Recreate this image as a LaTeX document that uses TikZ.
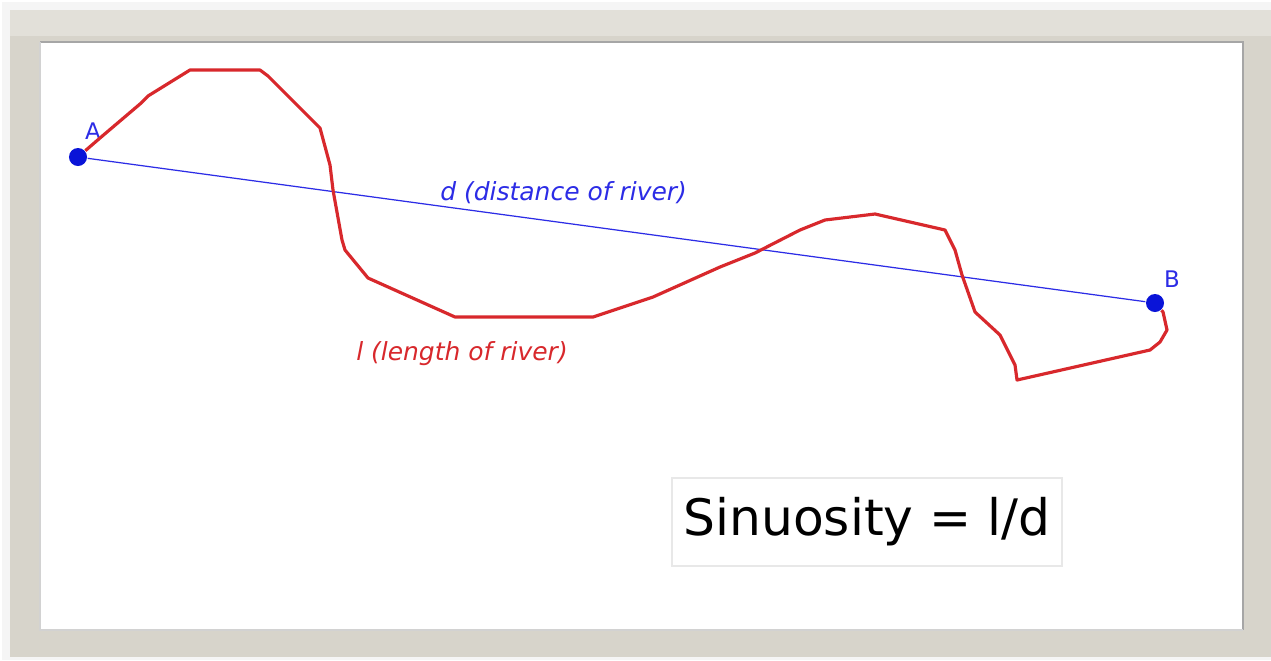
\documentclass[tikz,border=0pt]{standalone}
\usepackage{fontspec}
\setmainfont{DejaVu Sans}
\definecolor{framegray}{HTML}{D7D4CB}
\definecolor{frametop}{HTML}{E2E0D9}
\definecolor{riverred}{HTML}{D8282C}
\definecolor{lineblue}{HTML}{2C2CE6}
\definecolor{dotblue}{HTML}{0A14D8}
\tikzset{
  pt/.style={circle, fill=dotblue, inner sep=0pt, minimum size=0.18cm},
  ptlabel/.style={text=lineblue, font=\fontsize{6.5}{7}\selectfont},
  riverlabel/.style={font=\fontsize{7.1}{8}\selectfont\itshape}
}
\begin{document}
\begin{tikzpicture}[x=0.01cm, y=-0.01cm]
    \useasboundingbox (0,0) rectangle (1271,660);
    % frame
    \fill[gray!8] (2,2) rectangle (1271,660);
    \fill[framegray] (10,10) rectangle (1271,657);
    \fill[frametop] (10,10) rectangle (1271,36);
    \fill[white] (40,42) rectangle (1243,630);
    \draw[gray!70, line width=0.5pt] (40,42) -- (1243,42) -- (1243,630);
    \draw[gray!35, line width=0.4pt] (40,42) -- (40,630) -- (1243,630);
    % end points
    \node[pt] (A) at (78,157) {};
    \node[pt] (B) at (1155,303) {};
    \node[ptlabel] at (93,131) {A};
    \node[ptlabel] at (1172,279) {B};
    % straight distance
    \draw[lineblue, line width=0.35pt] (A) -- (B)
        node[pos=0.45, above=2pt, riverlabel, text=lineblue] (dlab) {d (distance of river)};
    % river course
    \draw[riverred, line width=0.9pt, line join=round] (A) -- (100,138) -- (140,104) -- (148,96)
        -- (190,70) -- (260,70) -- (268,76) -- (320,128) -- (330,165) -- (333,190)
        -- (342,240) -- (345,250) -- (368,278) -- (455,317) -- (593,317) -- (653,297)
        -- (720,267) -- (755,253) -- (800,230) -- (825,220) -- (875,214) -- (945,230)
        -- (955,250) -- (962,275) -- (975,312) -- (1000,335) -- (1015,365) -- (1017,380)
        -- (1150,350) -- (1160,342) -- (1167,330) -- (1163,312) -- (B);
    \node[riverlabel, text=riverred] (llab) at (462,354) {l (length of river)};
    % ratio
    \node[draw=gray!18, line width=0.5pt, minimum width=3.8cm, minimum height=0.88cm,
          font=\fontsize{14.3}{16}\selectfont] (ratio) at (867,522) {Sinuosity = l/d};
\end{tikzpicture}
\end{document}
